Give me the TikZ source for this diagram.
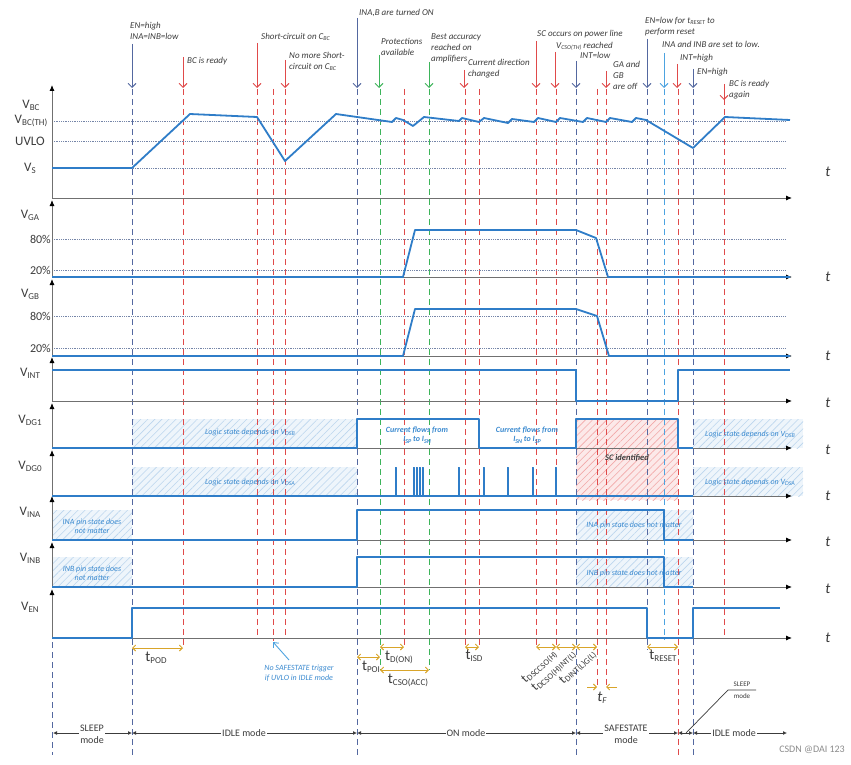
\documentclass[tikz,border=0pt]{standalone}
\usepackage{fontspec}
\setmainfont{Carlito}
\usetikzlibrary{arrows.meta,patterns.meta}
\definecolor{wave}{HTML}{2F7DC8}
\definecolor{bgr}{HTML}{5468A0}
\definecolor{rd}{HTML}{E04A4A}
\definecolor{gr}{HTML}{3DB45A}
\definecolor{lb}{HTML}{4DA3E0}
\definecolor{axc}{HTML}{707070}
\definecolor{dotc}{HTML}{7585A8}
\definecolor{txt}{HTML}{3C3C3C}
\definecolor{orng}{HTML}{D9A52A}
\definecolor{hatchb}{HTML}{BCD6EE}
\definecolor{hatchr}{HTML}{F2A8A8}
\definecolor{notec}{HTML}{3A8AD0}
\newcommand\lo[2][8]{\raisebox{-0.3ex}{\fontsize{#1}{#1}\selectfont #2}}
\tikzset{
  wv/.style={wave,line width=1.8pt,line join=round},
  axisline/.style={axc,line width=0.9pt,-{Latex[length=6pt,width=5pt,color=black]}},
  vd/.style={dash pattern=on 6pt off 4pt,line width=0.8pt},
  refl/.style={dotc,densely dotted,line width=0.8pt},
  ann/.style={txt,font=\fontsize{9}{11}\selectfont\itshape,align=left,inner sep=0pt,anchor=north west},
  annarr/.style={line width=0.9pt,-{Straight Barb[length=4pt,width=8pt]}},
  siglab/.style={font=\fontsize{13}{13}\selectfont,text=txt,inner sep=0pt},
  pct/.style={font=\fontsize{12}{12}\selectfont,text=txt,inner sep=1pt,anchor=east},
  tlab/.style={font=\fontsize{15}{15}\selectfont\itshape,text=txt},
  tm/.style={orng,line width=0.9pt,{Straight Barb[length=3pt,width=6pt]}-{Straight Barb[length=3pt,width=6pt]}},
  tmlab/.style={font=\fontsize{15}{15}\selectfont,text=txt,inner sep=0pt},
  rotlab/.style={font=\fontsize{13}{13}\selectfont,text=txt,inner sep=0pt,rotate=43,anchor=east},
  hb/.style={fill=hatchb!25,postaction={pattern={Lines[angle=45,distance=5pt,line width=0.6pt]},pattern color=hatchb}},
  hr/.style={fill=hatchr!25,postaction={pattern={Lines[angle=45,distance=5pt,line width=0.6pt]},pattern color=hatchr}},
  hnote/.style={notec,font=\fontsize{8}{9.5}\selectfont\itshape,align=center,inner sep=0pt},
  modearr/.style={txt,line width=0.8pt,{Latex[length=4pt,width=4pt]}-{Latex[length=4pt,width=4pt]}},
  modelab/.style={txt,font=\fontsize{10}{12}\selectfont,fill=white,inner sep=1pt,align=center}
}
\begin{document}
\begin{tikzpicture}[x=1pt,y=-1pt]
\useasboundingbox (0,0) rectangle (851,765);
\fill[white] (0,0) rectangle (851,765);

% hatched areas
\path[hb] (132,419) rectangle (357,448);
\path[hb] (132,467) rectangle (357,496);
\path[hb] (693,419) rectangle (803,448);
\path[hb] (693,467) rectangle (803,496);
\path[hb] (52,510) rectangle (132,540);
\path[hb] (52,557) rectangle (132,587);
\path[hb] (576,510) rectangle (693,540);
\path[hb] (576,557) rectangle (693,587);
\path[hr] (576,419) rectangle (678,500);

% vertical dashed lines
\foreach \x/\c/\e in {132/bgr/755,183/rd/648,257/rd/638,273/rd/641,285/rd/638,357/bgr/755,380/gr/670,404/rd/648,429/gr/670,465/rd/648,479/rd/648,536/rd/648,556/rd/648,576/bgr/755,597/rd/688,606/rd/688,647/bgr/650,664/lb/640,678/rd/755,693/bgr/755,724/rd/638}
  \draw[vd,\c] (\x,89) -- (\x,\e);
\draw[vd,bgr] (52,642) -- (52,755);

% reference dotted lines
\foreach \y in {121,141,168,239,270,316,348}
  \draw[refl] (52,\y) -- (785,\y);

% axes
\foreach \ya/\yb in {198/85,277/200,356/279,401/357,448/403,496/450,540/496,587/542,638/589}{
  \draw[axisline] (52,\ya) -- (52,\yb);
  \draw[axisline] (52,\ya) -- (792,\ya);
}
\foreach \y/\n in {172/t1,277/t2,356/t3,403/t4,450/t5,496/t6,542/t7,589/t8,638/t9}
  \node[tlab] (\n) at (828,\y) {t};

% signal labels
\node[siglab] (lbc) at (31,105) {V\lo[9]{BC}};
\node[siglab] (lbcth) at (31,121) {V\lo[9]{BC(TH)}};
\node[siglab] (luvlo) at (30,141) {UVLO};
\node[siglab] (lvs) at (30,168) {V\lo[9]{S}};
\node[siglab] (lga) at (30,215) {V\lo[9]{GA}};
\node[pct] (pa80) at (52,239) {80\%};
\node[pct] (pa20) at (52,270) {20\%};
\node[siglab] (lgb) at (30,294) {V\lo[9]{GB}};
\node[pct] (pb80) at (52,316) {80\%};
\node[pct] (pb20) at (52,348) {20\%};
\node[siglab] (lint) at (30,373) {V\lo[9]{INT}};
\node[siglab] (ldg1) at (30,420) {V\lo[9]{DG1}};
\node[siglab] (ldg0) at (30,466) {V\lo[9]{DG0}};
\node[siglab] (lina) at (30,512) {V\lo[9]{INA}};
\node[siglab] (linb) at (30,558) {V\lo[9]{INB}};
\node[siglab] (len) at (30,607) {V\lo[9]{EN}};

% waveforms
\draw[wv] (52,168) -- (132,168) -- (190,114) -- (257,117) -- (285,161) -- (336,114) -- (392,122) -- (396,118) -- (403,120) -- (413,126) -- (424,117) -- (459,121) -- (462,118) -- (479,122) -- (484,118) -- (508,123) -- (512,119) -- (534,122) -- (538,118) -- (556,122) -- (560,118) -- (583,122) -- (587,118) -- (606,122) -- (610,118) -- (632,122) -- (636,118) -- (646,120) -- (693,148) -- (725,117) -- (790,120);
\draw[wv] (52,277) -- (403,277) -- (415,230) -- (576,230) -- (596,238) -- (608,277) -- (790,277);
\draw[wv] (52,356) -- (403,356) -- (415,309) -- (576,309) -- (597,316) -- (609,356) -- (790,356);
\draw[wv] (52,370) -- (576,370) -- (576,401) -- (678,401) -- (678,370) -- (790,370);
\draw[wv] (52,448) -- (357,448) -- (357,419) -- (479,419) -- (479,448) -- (576,448) -- (576,419) -- (678,419) -- (678,448) -- (693,448);
\draw[wv,line width=1.5pt] (52,496) -- (693,496);
\draw[wv,line width=0.8pt]
  \foreach \p in {395,413,416,419,422,458,483,507,532,555}{ (\p,496) -- (\p,467) -- (\p+1.6,467) -- (\p+1.6,496)};

\draw[wv] (52,540) -- (357,540) -- (357,510) -- (664,510) -- (664,540) -- (693,540);
\draw[wv] (52,587) -- (357,587) -- (357,557) -- (664,557) -- (664,587) -- (693,587);
\draw[wv] (52,638) -- (132,638) -- (132,608) -- (647,608) -- (647,638) -- (693,638) -- (693,608) -- (780,608);

% hatch notes
\node[hnote] (n1) at (250,432) {Logic state depends on V\lo[6]{DSB}};
\node[hnote] (n2) at (250,482) {Logic state depends on V\lo[6]{DSA}};
\node[hnote] (n3) at (750,434) {Logic state depends on V\lo[6]{DSB}};
\node[hnote] (n4) at (750,482) {Logic state depends on V\lo[6]{DSA}};
\node[hnote] (n5) at (92,526) {INA pin state does\\not matter};
\node[hnote] (n6) at (92,573) {INB pin state does\\not matter};
\node[hnote] (n7) at (634,525) {INA pin state does not matter};
\node[hnote] (n8) at (634,573) {INB pin state does not matter};
\node[hnote,font=\fontsize{8}{9.5}\selectfont\bfseries\itshape] (cf1) at (417,435) {Current flows from\\I\lo[6]{SP} to I\lo[6]{SN}};
\node[hnote,font=\fontsize{8}{9.5}\selectfont\bfseries\itshape] (cf2) at (527,435) {Current flows from\\I\lo[6]{SN} to I\lo[6]{SP}};
\node[txt,font=\fontsize{8.5}{10}\selectfont\bfseries\itshape,inner sep=0pt] (sci) at (627,458) {SC identified};

% top annotations
\node[ann] (a1) at (130,22) {EN=high\\INA=INB=low};
\draw[annarr,bgr] (132,44) -- (132,88);
\node[ann] (a2) at (187,57) {BC is ready};
\draw[annarr,rd] (183,57) -- (183,88);
\node[ann] (a3) at (261,33) {Short-circuit on C\lo[6]{BC}};
\draw[annarr,rd] (257,43) -- (257,88);
\node[ann] (a4) at (289,52) {No more Short-\\circuit on C\lo[6]{BC}};
\draw[annarr,rd] (285,60) -- (285,88);
\node[ann] (a5) at (359,9) {INA,B are turned ON};
\draw[annarr,bgr] (357,18) -- (357,88);
\node[ann] (a6) at (381,38) {Protections\\available};
\draw[annarr,gr] (379,55) -- (379,88);
\node[ann] (a7) at (431,34) {Best accuracy\\reached on\\amplifiers};
\draw[annarr,gr] (429,62) -- (429,88);
\node[ann] (a8) at (468,59) {Current direction\\changed};
\draw[annarr,rd] (464,70) -- (464,88);
\node[ann] (a9) at (537,30) {SC occurs on power line};
\draw[annarr,rd] (536,41) -- (536,88);
\node[ann] (a10) at (556,42) {V\lo[6]{CSO(TH)} reached};
\draw[annarr,rd] (555,52) -- (555,88);
\node[ann] (a11) at (580,52) {INT=low};
\draw[annarr,bgr] (576,61) -- (576,88);
\node[ann] (a12) at (613,61) {GA and\\GB\\are off};
\draw[annarr,rd] (606,71) -- (606,88);
\node[ann] (a13) at (645,17) {EN=low for t\lo[6]{RESET} to\\perform reset};
\draw[annarr,bgr] (647,39) -- (647,88);
\node[ann] (a14) at (662,41) {INA and INB are set to low.};
\draw[annarr,lb] (664,53) -- (664,88);
\node[ann] (a15) at (680,54) {INT=high};
\draw[annarr,rd] (677,64) -- (677,88);
\node[ann] (a16) at (697,68) {EN=high};
\draw[annarr,bgr] (693,69) -- (693,88);
\node[ann] (a17) at (729,80) {BC is ready\\again};
\draw[annarr,rd] (724,84) -- (724,100);

% timing annotations
\draw[tm] (132,648) -- (183,648);
\node[tmlab] (tpod) at (156,658) {t\lo[9]{POD}};
\draw[tm] (357,657) -- (380,657);
\node[tmlab] (tpoi) at (371,667) {t\lo[9]{POI}};
\draw[tm] (380,647) -- (404,647);
\node[tmlab] (tdon) at (399,657) {t\lo[9]{D(ON)}};
\draw[tm] (380,670) -- (429,670);
\node[tmlab] (tcso) at (408,680) {t\lo[9]{CSO(ACC)}};
\draw[tm] (465,647) -- (479,647);
\node[tmlab] (tisd) at (474,656) {t\lo[9]{ISD}};
\draw[tm] (536,647) -- (556,647);
\draw[tm] (556,647) -- (576,647);
\draw[tm] (576,647) -- (597,647);
\node[rotlab] (tdsc) at (555,652) {t\lo[8.5]{DSCCSO(H)}};
\node[rotlab] (tdcs) at (574,652) {t\lo[8.5]{DCSO(H)INT(L)}};
\node[rotlab] (tdint) at (594,652) {t\lo[8.5]{DINT(L)G(L)}};
\draw[tm] (647,647) -- (678,647);
\node[tmlab] (trst) at (663,656) {t\lo[9]{RESET}};
\coordinate (f1) at (587,687);
\coordinate (f2) at (597,687);
\coordinate (f3) at (617,687);
\coordinate (f4) at (606,687);
\draw[orng,line width=0.9pt,-{Straight Barb[length=3pt,width=6pt]}] (f1) -- (f2);
\draw[orng,line width=0.9pt,-{Straight Barb[length=3pt,width=6pt]}] (f3) -- (f4);
\node[tmlab,font=\fontsize{15}{15}\selectfont\itshape] (tf) at (602,698) {t\lo[9]{F}};

% no safestate note
\node[hnote,font=\fontsize{8}{10}\selectfont\itshape] (nost) at (299,673) {No SAFESTATE trigger\\if UVLO in IDLE mode};
\coordinate (nsa) at (289,660);
\coordinate (nsb) at (273,642);
\draw[lb,line width=0.9pt,-{Straight Barb[length=4pt,width=7pt]}] (nsa) -- (nsb);

% mode bar
\draw[modearr] (53,733) -- (132,733);
\draw[modearr] (132,733) -- (357,733);
\draw[modearr] (357,733) -- (576,733);
\draw[modearr] (576,733) -- (678,733);
\draw[modearr] (678,733) -- (693,733);
\draw[modearr] (693,733) -- (787,733);
\node[modelab] (m1) at (92,734) {SLEEP\\mode};
\node[modelab] (m2) at (244,733) {IDLE mode};
\node[modelab] (m3) at (466,733) {ON mode};
\node[modelab] (m4) at (626,734) {SAFESTATE\\mode};
\node[modelab] (m6) at (734,733) {IDLE mode};
\coordinate (sl0) at (686,733);
\coordinate (sl1) at (728,690);
\coordinate (sl2) at (756,690);
\draw[txt,line width=0.7pt] (sl0) -- (sl1) -- (sl2);
\node[txt,font=\fontsize{7}{7}\selectfont,inner sep=0pt] (m5a) at (742,684) {SLEEP};
\node[txt,font=\fontsize{7}{7}\selectfont,inner sep=0pt] (m5b) at (742,696) {mode};

\node[font=\fontsize{10}{10}\selectfont,text=black!45,inner sep=0pt,anchor=east] (wm) at (845,750) {CSDN @DAI 123};
\end{tikzpicture}
\end{document}
